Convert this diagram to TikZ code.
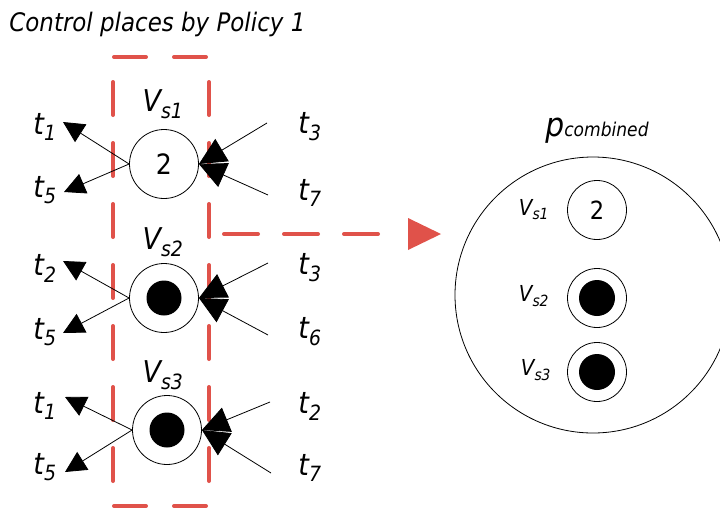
\documentclass[tikz,border=0pt]{standalone}
\usepackage{fontspec}
\setmainfont{DejaVu Sans}[FakeStretch=0.9]
\usetikzlibrary{arrows.meta}
\definecolor{dashred}{RGB}{224,82,74}
\begin{document}
\begin{tikzpicture}[x=1pt,y=-1pt,line width=0.8pt,
  place/.style={circle,draw,minimum size=69pt,inner sep=0pt},
  splace/.style={circle,draw,minimum size=59pt,inner sep=0pt},
  token/.style={circle,fill,minimum size=35pt,inner sep=0pt},
  stoken/.style={circle,fill,minimum size=36pt,inner sep=0pt},
  bigplace/.style={circle,draw,minimum size=276pt,inner sep=0pt},
  tlab/.style={font=\fontsize{30}{34}\selectfont\itshape,inner sep=0pt},
  vlab/.style={font=\fontsize{30}{34}\selectfont\itshape,inner sep=0pt},
  svlab/.style={font=\fontsize{22}{26}\selectfont\itshape,inner sep=0pt},
  numlab/.style={font=\fontsize{28}{32}\selectfont},
  outarr/.style={-{Triangle[length=21pt,width=21pt]}},
  inarr/.style={-{Triangle[length=27pt,width=26pt]}},
  reddash/.style={dashred,line width=4pt,line cap=round,dash pattern=on 33pt off 28pt}]
\useasboundingbox (0,0) rectangle (720,509);

% title
\node[anchor=west,inner sep=0pt,font=\fontsize{25.5}{30}\selectfont\itshape] (title) at (9,24) {Control places by Policy 1};

% dashed frame
\draw[reddash,dash pattern=on 32pt off 28pt] (114,57) -- (210,57);
\draw[reddash,dash pattern=on 32pt off 28pt] (114,506) -- (210,506);
\draw[reddash] (113,82) -- (113,484);
\draw[reddash] (209,82) -- (209,484);

% places left
\node[place,numlab] (V1) at (164,164) {2};
\node[place] (V2) at (164,298) {};
\node[token] (K2) at (V2) {};
\node[place] (V3) at (167,430) {};
\node[token] (K3) at (V3) {};

\node[vlab] (L1) at (163,104) {V\textsubscript{s1}};
\node[vlab] (L2) at (163,242) {V\textsubscript{s2}};
\node[vlab] (L3) at (163,375) {V\textsubscript{s3}};

% free ends
\coordinate (o11) at (63,122);
\coordinate (o12) at (64,192);
\coordinate (o21) at (63,261);
\coordinate (o22) at (63,333);
\coordinate (o31) at (65,397);
\coordinate (o32) at (65,472);
\coordinate (i11) at (267,123);
\coordinate (i12) at (268,195);
\coordinate (i21) at (268,263);
\coordinate (i22) at (268,335);
\coordinate (i31) at (270,402);
\coordinate (i32) at (271,473);

\draw[outarr] (V1.west) -- (o11);
\draw[outarr] (V1.west) -- (o12);
\draw[outarr] (V2.west) -- (o21);
\draw[outarr] (V2.west) -- (o22);
\draw[outarr] (V3.west) -- (o31);
\draw[outarr] (V3.west) -- (o32);
\draw[inarr] (i11) -- (V1.east);
\draw[inarr] (i12) -- (V1.east);
\draw[inarr] (i21) -- (V2.east);
\draw[inarr] (i22) -- (V2.east);
\draw[inarr] (i31) -- (V3.east);
\draw[inarr] (i32) -- (V3.east);

% transition labels
\node[tlab] (ta1) at (45,127) {t\textsubscript{1}};
\node[tlab] (ta2) at (45,190) {t\textsubscript{5}};
\node[tlab] (tb1) at (45,268) {t\textsubscript{2}};
\node[tlab] (tb2) at (45,332) {t\textsubscript{5}};
\node[tlab] (tc1) at (45,406) {t\textsubscript{1}};
\node[tlab] (tc2) at (45,467) {t\textsubscript{5}};
\node[tlab] (td1) at (310,127) {t\textsubscript{3}};
\node[tlab] (td2) at (310,193) {t\textsubscript{7}};
\node[tlab] (te1) at (310,268) {t\textsubscript{3}};
\node[tlab] (te2) at (310,332) {t\textsubscript{6}};
\node[tlab] (tf1) at (310,406) {t\textsubscript{2}};
\node[tlab] (tf2) at (310,468) {t\textsubscript{7}};

% combined place
\node[bigplace] (P) at (593,295) {};
\node[inner sep=0pt,anchor=base] (PL) at (597,136) {\fontsize{33}{36}\selectfont\itshape p\fontsize{19}{22}\selectfont combined};
\node[splace,font=\fontsize{25}{30}\selectfont] (W1) at (597,210) {2};
\node[splace] (W2) at (597,298) {};
\node[stoken] (X2) at (W2) {};
\node[splace] (W3) at (597,372) {};
\node[stoken] (X3) at (W3) {};
\node[svlab] (M1) at (534,210) {V\textsubscript{s1}};
\node[svlab] (M2) at (534,296) {V\textsubscript{s2}};
\node[svlab] (M3) at (536,370) {V\textsubscript{s3}};

% dashed arrow
\coordinate (a0) at (224,234);
\coordinate (a1) at (386,234);
\draw[reddash,dash pattern=on 34pt off 26pt] (a0) -- (a1);
\fill[dashred] (408,218) -- (441,234) -- (408,250) -- cycle;
\end{tikzpicture}
\end{document}
